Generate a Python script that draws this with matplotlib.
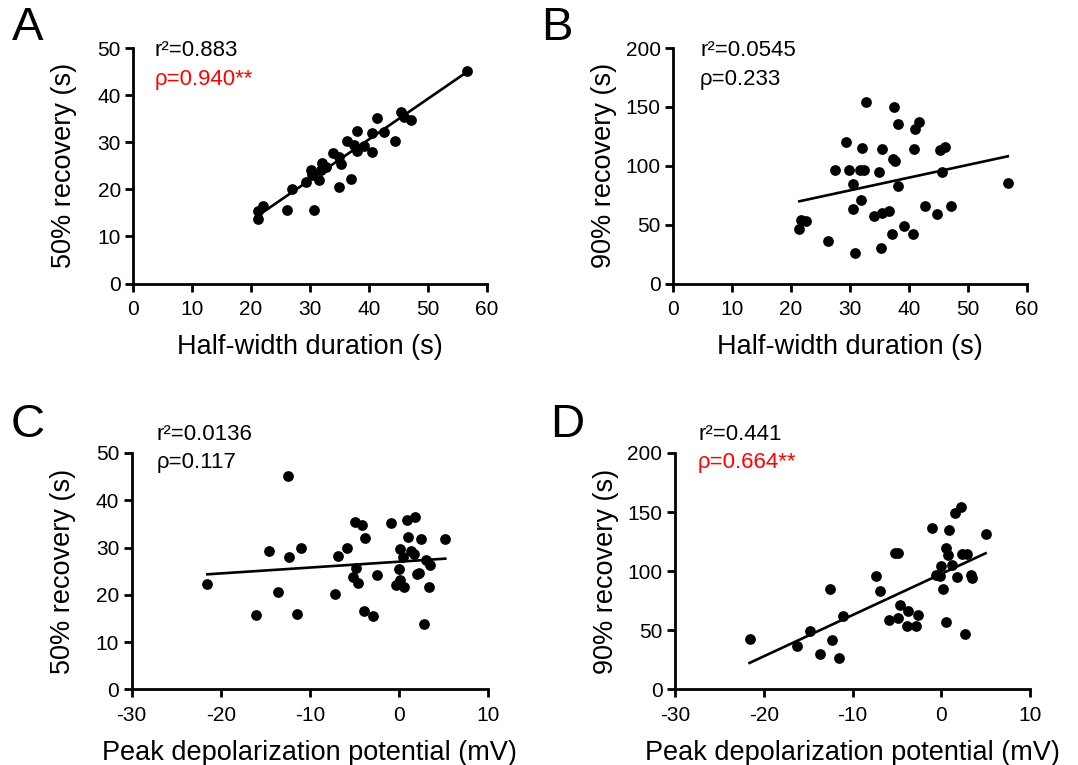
import matplotlib
matplotlib.use('Agg')
import matplotlib.pyplot as plt
import numpy as np

plt.rcParams['font.family'] = ['Liberation Sans', 'DejaVu Sans']
plt.rcParams['axes.unicode_minus'] = False

# Panel A: half-width duration vs 50% recovery
a_x = [56.7, 45.5, 45.9, 47.1, 41.4, 42.5, 44.4, 40.6, 40.5, 37.9, 36.2, 37.5,
       37.9, 39.2, 33.9, 34.9, 35.2, 36.9, 34.9, 32.1, 31.8, 30.1, 30.4, 31.5,
       29.3, 27.0, 30.6, 26.1, 22.0, 21.2, 21.1, 32.8]
a_y = [45.2, 36.5, 35.4, 34.7, 35.1, 32.1, 30.2, 31.9, 28.0, 32.4, 30.2, 29.4,
       28.2, 29.2, 27.8, 26.8, 25.4, 22.2, 20.5, 25.6, 24.2, 24.2, 23.1, 22.0,
       21.5, 20.1, 15.7, 15.5, 16.4, 15.3, 13.7, 24.7]

# Panel B: half-width duration vs 90% recovery
b_x = [32.8, 37.4, 38.2, 41.7, 41.0, 29.4, 32.1, 35.5, 40.8, 45.3, 46.2, 37.3,
       37.7, 27.4, 29.8, 31.7, 32.4, 34.9, 45.7, 30.5, 38.1, 56.8, 31.8, 30.5,
       42.7, 44.7, 47.2, 34.1, 35.4, 36.6, 21.6, 22.5, 21.4, 39.2, 37.1, 40.7,
       26.3, 35.2, 30.9]
b_y = [154.0, 149.7, 135.3, 137.5, 131.1, 120.1, 115.0, 114.2, 114.2, 113.6,
       115.5, 105.7, 103.7, 96.6, 96.6, 96.6, 96.6, 94.3, 94.7, 84.7, 82.8, 85.3,
       71.2, 63.3, 66.1, 59.1, 66.1, 57.0, 59.9, 61.3, 54.2, 52.8, 46.4, 49.2,
       42.4, 41.8, 35.9, 30.2, 26.0]

# Panel C: peak depolarization vs 50% recovery
c_x = [-12.4, -21.5, -16.1, -14.6, -13.6, -12.3, -11.0, -11.4, -7.2, -6.8,
       -5.8, -4.9, -4.2, -3.8, -4.8, -5.1, -4.6, -3.9, -2.9, -2.5, -0.9, 0.9,
       1.8, 1.0, 2.5, 5.2, 0.1, 1.3, 1.7, 0.5, 3.0, 3.5, 0.0, 2.0, 2.3, 0.1,
       -0.3, 0.6, 3.4, 2.8]
c_y = [45.1, 22.2, 15.7, 29.3, 20.6, 28.0, 30.0, 15.9, 20.1, 28.2, 30.0, 35.3,
       34.7, 32.1, 25.6, 23.8, 22.4, 16.5, 15.6, 24.2, 35.1, 35.8, 36.4, 32.3,
       31.9, 31.8, 29.6, 29.3, 28.7, 27.9, 27.3, 26.4, 25.4, 24.3, 24.6, 23.2,
       22.0, 21.7, 21.7, 13.9]

# Panel D: peak depolarization vs 90% recovery
d_x = [-21.6, -16.2, -14.8, -13.7, -12.3, -12.5, -11.5, -11.1, -7.4, -6.9,
       -5.2, -4.9, -4.7, -5.9, -4.9, -3.8, -2.6, -3.9, -2.9, -1.0, 0.9, 1.6,
       2.2, 5.0, 0.5, 0.8, 2.3, 2.9, 0.0, 1.2, -0.6, -0.1, 1.8, 3.4, 3.5, 0.2,
       0.5, 2.7]
d_y = [42.4, 36.4, 49.4, 30.2, 42.1, 85.3, 26.6, 61.9, 96.3, 82.8, 115.0,
       115.0, 71.2, 59.0, 60.5, 66.4, 63.3, 53.4, 53.7, 136.7, 134.7, 148.9,
       154.0, 131.1, 119.8, 113.6, 114.4, 114.1, 104.2, 105.1, 96.6, 95.8, 95.2,
       96.6, 93.8, 84.7, 57.0, 46.6]

# regression lines (slope, intercept)
fits = {'A': (0.86, -3.8), 'B': (1.08, 46.7), 'C': (0.124, 27.0), 'D': (3.49, 97.7)}

stats = {
    'A': ('r²=0.883', 'ρ=0.940**', 'red'),
    'B': ('r²=0.0545', 'ρ=0.233', 'black'),
    'C': ('r²=0.0136', 'ρ=0.117', 'black'),
    'D': ('r²=0.441', 'ρ=0.664**', 'red'),
}

W, H = 1078, 765
fig = plt.figure(figsize=(W / 100, H / 100), dpi=100)


def px_axes(left, right, bottom, top):
    return fig.add_axes([left / W, 1 - bottom / H, (right - left) / W, (bottom - top) / H])


panels = [
    ('A', a_x, a_y, (133.3, 486.7, 283.5, 48), (0, 60), np.arange(0, 61, 10), (0, 50),
     np.arange(0, 51, 10), 'Half-width duration (s)', '50% recovery (s)', (28, 28), (155, 50)),
    ('B', b_x, b_y, (673.3, 1026.7, 283.5, 48), (0, 60), np.arange(0, 61, 10), (0, 200),
     np.arange(0, 201, 50), 'Half-width duration (s)', '90% recovery (s)', (557, 28), (700, 50)),
    ('C', c_x, c_y, (131.7, 488, 689.3, 453), (-30, 10), np.arange(-30, 11, 10), (0, 50),
     np.arange(0, 51, 10), 'Peak depolarization potential (mV)', '50% recovery (s)', (28, 425), (157, 434)),
    ('D', d_x, d_y, (675, 1030, 689.3, 453), (-30, 10), np.arange(-30, 11, 10), (0, 200),
     np.arange(0, 201, 50), 'Peak depolarization potential (mV)', '90% recovery (s)', (567, 425), (698, 434)),
]

for name, xs, ys, box, xlim, xticks, ylim, yticks, xlabel, ylabel, letter_pos, txt_pos in panels:
    ax = px_axes(*box)
    ax.scatter(xs, ys, s=60, color='black', zorder=3, clip_on=False, linewidths=0)
    slope, intercept = fits[name]
    lx = np.array([min(xs), max(xs)])
    ax.plot(lx, slope * lx + intercept, color='black', lw=1.9, zorder=2)

    ax.set_xlim(*xlim)
    ax.set_ylim(*ylim)
    ax.set_xticks(xticks)
    ax.set_yticks(yticks)
    for side in ['top', 'right']:
        ax.spines[side].set_visible(False)
    for side in ['left', 'bottom']:
        ax.spines[side].set_linewidth(2)
    ax.tick_params(width=2, length=6, labelsize=15, pad=3)
    ax.tick_params(axis='x', pad=6)
    ax.set_xlabel(xlabel, fontsize=19.5, labelpad=11)
    ax.set_ylabel(ylabel, fontsize=19.5)
    # y label sits the same distance left of the spine in every panel
    ax.yaxis.set_label_coords(-56 / (box[1] - box[0]), 0.5)

    fig.text(letter_pos[0] / W, 1 - letter_pos[1] / H, name, fontsize=34,
             ha='center', va='center')
    r2, rho, col = stats[name]
    fig.text(txt_pos[0] / W, 1 - txt_pos[1] / H, r2, fontsize=16, ha='left', va='center')
    fig.text(txt_pos[0] / W, 1 - (txt_pos[1] + 29) / H, rho, fontsize=16, ha='left',
             va='center', color=col)

fig.savefig('out.png', dpi=100)
